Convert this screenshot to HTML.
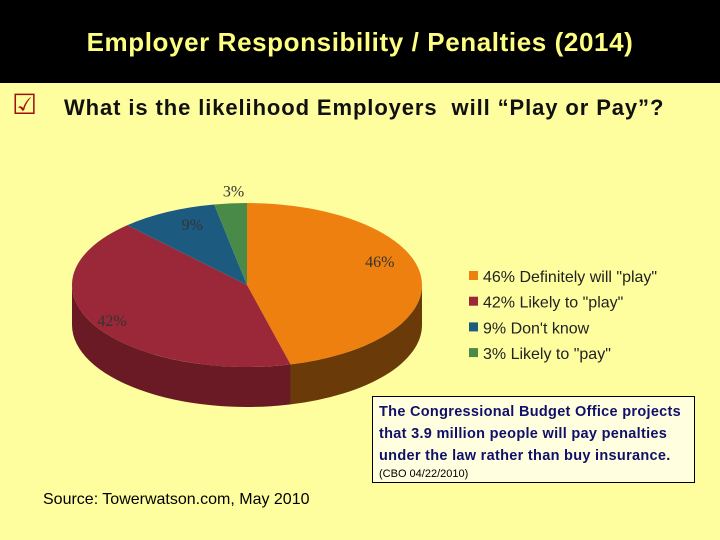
<!DOCTYPE html>
<html><head><meta charset="utf-8"><style>
body{margin:0;width:720px;height:540px;overflow:hidden;background:#fefe9e;font-family:"Liberation Sans",sans-serif;position:relative}
#hdr{position:absolute;left:0;top:0;width:720px;height:83px;background:#000}
#title{position:absolute;left:0;top:27px;width:720px;text-align:center;color:#fefe80;font-size:26px;font-weight:bold;letter-spacing:0.6px}
#q{position:absolute;left:64px;top:95px;font-size:22px;font-weight:bold;color:#111;letter-spacing:0.9px}
#chk{position:absolute;left:12px;top:88px;font-size:28px;color:#a01010}
#box{position:absolute;left:372px;top:396px;width:323px;height:87px;border:1px solid #000;background:#ffffe0;box-sizing:border-box;padding:4px 0 0 6px;color:#10106a;font-size:14.5px;font-weight:bold;line-height:22px;letter-spacing:0.3px}
#box small{display:block;font-size:11px;font-weight:normal;color:#000;line-height:14px;letter-spacing:0}
#src{position:absolute;left:43px;top:491px;font-size:16px;color:#000}
</style></head><body>
<div id="hdr"></div>
<div id="title">Employer Responsibility / Penalties (2014)</div>
<div id="chk">☑</div>
<div id="q">What is the likelihood Employers&nbsp; will “Play or Pay”?</div>
<svg id="chart" width="720" height="540" style="position:absolute;left:0;top:0"></svg>
<div id="box">The Congressional Budget Office projects that 3.9 million people will pay penalties under the law rather than buy insurance.<small>(CBO 04/22/2010)</small></div>
<div id="src">Source: Towerwatson.com, May 2010</div>
<script>
const labels=['46% Definitely will "play"','42% Likely to "play"','9% Don\'t know','3% Likely to "pay"'];
const values=[46,42,9,3];
const pctLabels=['46%','42%','9%','3%'];
const colors=['#ee8010','#9a2838','#1c5a80','#4a8a48'];
const sideColors=['#6a3a08','#6a1a24','#103048','#2a5028'];
const svg=document.getElementById('chart');
const NS='http://www.w3.org/2000/svg';
const cx=247,cy=285,rx=175,ry=82,depth=40;
const labelNudge=[[-20,-15],[0,0],[-7,-17],[5,-3]];
function pt(t,dy){return [cx+rx*Math.sin(t),cy-ry*Math.cos(t)+(dy||0)];}
function mk(tag,attrs){const e=document.createElementNS(NS,tag);for(const k in attrs)e.setAttribute(k,attrs[k]);svg.appendChild(e);return e;}
const total=values.reduce((a,b)=>a+b,0);
let angs=[0];values.forEach((v,i)=>angs.push(angs[i]+v/total*2*Math.PI));
values.forEach((v,i)=>{
  let a=Math.max(angs[i],Math.PI/2),b=Math.min(angs[i+1],3*Math.PI/2);
  if(b<=a)return;
  const p1=pt(a),p2=pt(b),p3=pt(b,depth),p4=pt(a,depth);
  const d=`M${p1}A${rx},${ry} 0 0 1 ${p2}L${p3}A${rx},${ry} 0 0 0 ${p4}Z`;
  const s=mk('path',{d:d,fill:sideColors[i]});
  
  
});
values.forEach((v,i)=>{
  const p1=pt(angs[i]),p2=pt(angs[i+1]);
  const large=(angs[i+1]-angs[i])>Math.PI?1:0;
  const s=mk('path',{d:`M${cx},${cy}L${p1}A${rx},${ry} 0 ${large} 1 ${p2}Z`,fill:colors[i]});
  
  
  const mid=(angs[i]+angs[i+1])/2;
  const f=i<2?0.88:(i==2?0.6:1.12);
  const lp=[cx+rx*f*Math.sin(mid)+labelNudge[i][0],cy-ry*f*Math.cos(mid)+labelNudge[i][1]];
  const t=mk('text',{x:lp[0],y:lp[1]+6,'text-anchor':'middle','font-family':'Liberation Serif,serif','font-size':'16',fill:'#333'});
  t.textContent=pctLabels[i];
  
  
});
labels.forEach((l,i)=>{
  const y=276+i*25.7;
  const r=mk('rect',{x:469,y:y-5,width:9,height:9,fill:colors[i]});
  
  
  const t=mk('text',{x:483,y:y+6,'font-family':'Liberation Sans,sans-serif','font-size':'16',fill:'#222'});
  t.textContent=l;
  
  
});
</script>
</body></html>
